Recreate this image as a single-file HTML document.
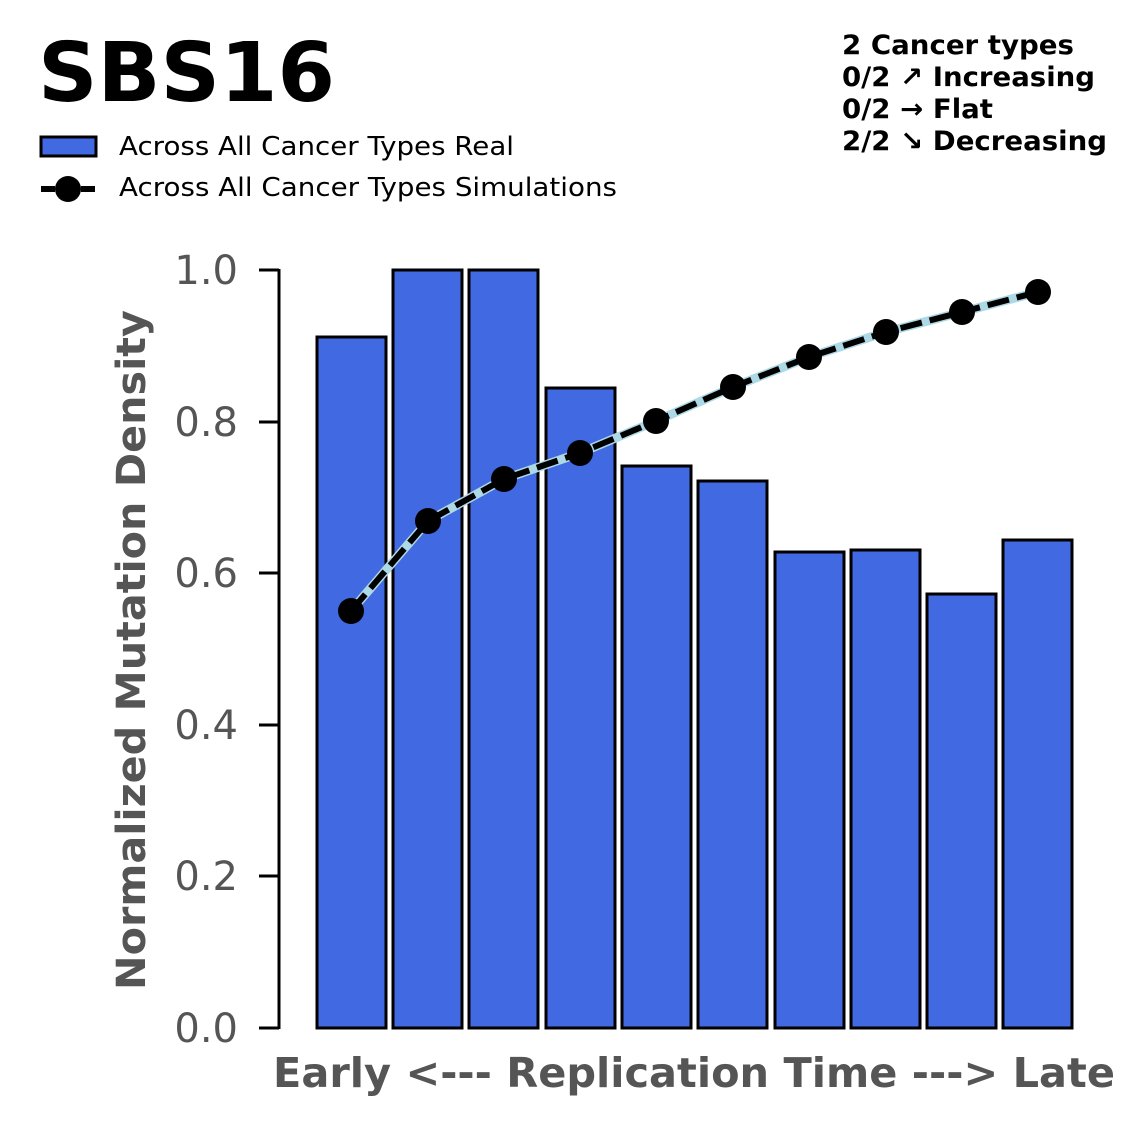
<!DOCTYPE html>
<html><head><meta charset="utf-8"><style>
html,body{margin:0;padding:0;background:#fff;}
svg{display:block;font-family:"DejaVu Sans","Liberation Sans",sans-serif;}
</style></head><body>
<svg width="1147" height="1125" viewBox="0 0 1147 1125" xmlns="http://www.w3.org/2000/svg">
<text x="38" y="101" font-size="82" font-weight="bold" fill="#000" textLength="297" lengthAdjust="spacingAndGlyphs">SBS16</text>
<g font-size="27" font-weight="bold" fill="#000">
<text x="842" y="54" textLength="232" lengthAdjust="spacingAndGlyphs">2 Cancer types</text>
<text x="842" y="86" textLength="253" lengthAdjust="spacingAndGlyphs">0/2 ↗ Increasing</text>
<text x="842" y="118" textLength="151" lengthAdjust="spacingAndGlyphs">0/2 → Flat</text>
<text x="842" y="150" textLength="265" lengthAdjust="spacingAndGlyphs">2/2 ↘ Decreasing</text>
</g>
<rect x="41" y="137" width="55" height="19" fill="#4169e1" stroke="#000" stroke-width="3"/>
<text x="119" y="155" font-size="26" fill="#000" textLength="395" lengthAdjust="spacingAndGlyphs">Across All Cancer Types Real</text>
<line x1="41" y1="189" x2="96" y2="189" stroke="#000" stroke-width="6" stroke-dasharray="14,6"/>
<circle cx="68" cy="189" r="13" fill="#000"/>
<text x="119" y="196" font-size="26" fill="#000" textLength="498" lengthAdjust="spacingAndGlyphs">Across All Cancer Types Simulations</text>
<line x1="279" y1="269" x2="279" y2="1029" stroke="#000" stroke-width="3"/>
<g stroke="#000" stroke-width="3">
<line x1="259" y1="1028" x2="279" y2="1028"/><line x1="259" y1="876" x2="279" y2="876"/>
<line x1="259" y1="725" x2="279" y2="725"/><line x1="259" y1="573" x2="279" y2="573"/>
<line x1="259" y1="422" x2="279" y2="422"/><line x1="259" y1="270" x2="279" y2="270"/>
</g>
<g font-size="40" fill="#555" text-anchor="end">
<text x="238" y="1042">0.0</text><text x="238" y="890">0.2</text><text x="238" y="739">0.4</text>
<text x="238" y="587">0.6</text><text x="238" y="436">0.8</text><text x="238" y="284">1.0</text>
</g>
<text transform="translate(145,650) rotate(-90)" font-size="40" font-weight="bold" fill="#555" text-anchor="middle" textLength="680" lengthAdjust="spacingAndGlyphs">Normalized Mutation Density</text>
<text x="694" y="1087" font-size="41" font-weight="bold" fill="#555" text-anchor="middle" textLength="842" lengthAdjust="spacingAndGlyphs">Early &lt;--- Replication Time ---&gt; Late</text>
<g fill="#4169e1" stroke="#000" stroke-width="3">
<rect x="317" y="337" width="69" height="691"/>
<rect x="393" y="270" width="69" height="758"/>
<rect x="469" y="270" width="69" height="758"/>
<rect x="546" y="388" width="69" height="640"/>
<rect x="622" y="466" width="69" height="562"/>
<rect x="698" y="481" width="69" height="547"/>
<rect x="775" y="552" width="69" height="476"/>
<rect x="851" y="550" width="69" height="478"/>
<rect x="927" y="594" width="69" height="434"/>
<rect x="1003" y="540" width="69" height="488"/>
</g>
<polyline points="351,611 428,521 504,479 580,453 656,421 733,387 809,357 886,332 962,312 1038,292" fill="none" stroke="#add8e6" stroke-width="9"/>
<polyline points="351,611 428,521 504,479 580,453 656,421 733,387 809,357 886,332 962,312 1038,292" fill="none" stroke="#000" stroke-width="6" stroke-dasharray="22,8"/>
<g fill="#000">
<circle cx="351" cy="611" r="13"/><circle cx="428" cy="521" r="13"/><circle cx="504" cy="479" r="13"/>
<circle cx="580" cy="453" r="13"/><circle cx="656" cy="421" r="13"/><circle cx="733" cy="387" r="13"/>
<circle cx="809" cy="357" r="13"/><circle cx="886" cy="332" r="13"/><circle cx="962" cy="312" r="13"/>
<circle cx="1038" cy="292" r="13"/>
</g>
</svg>
</body></html>
